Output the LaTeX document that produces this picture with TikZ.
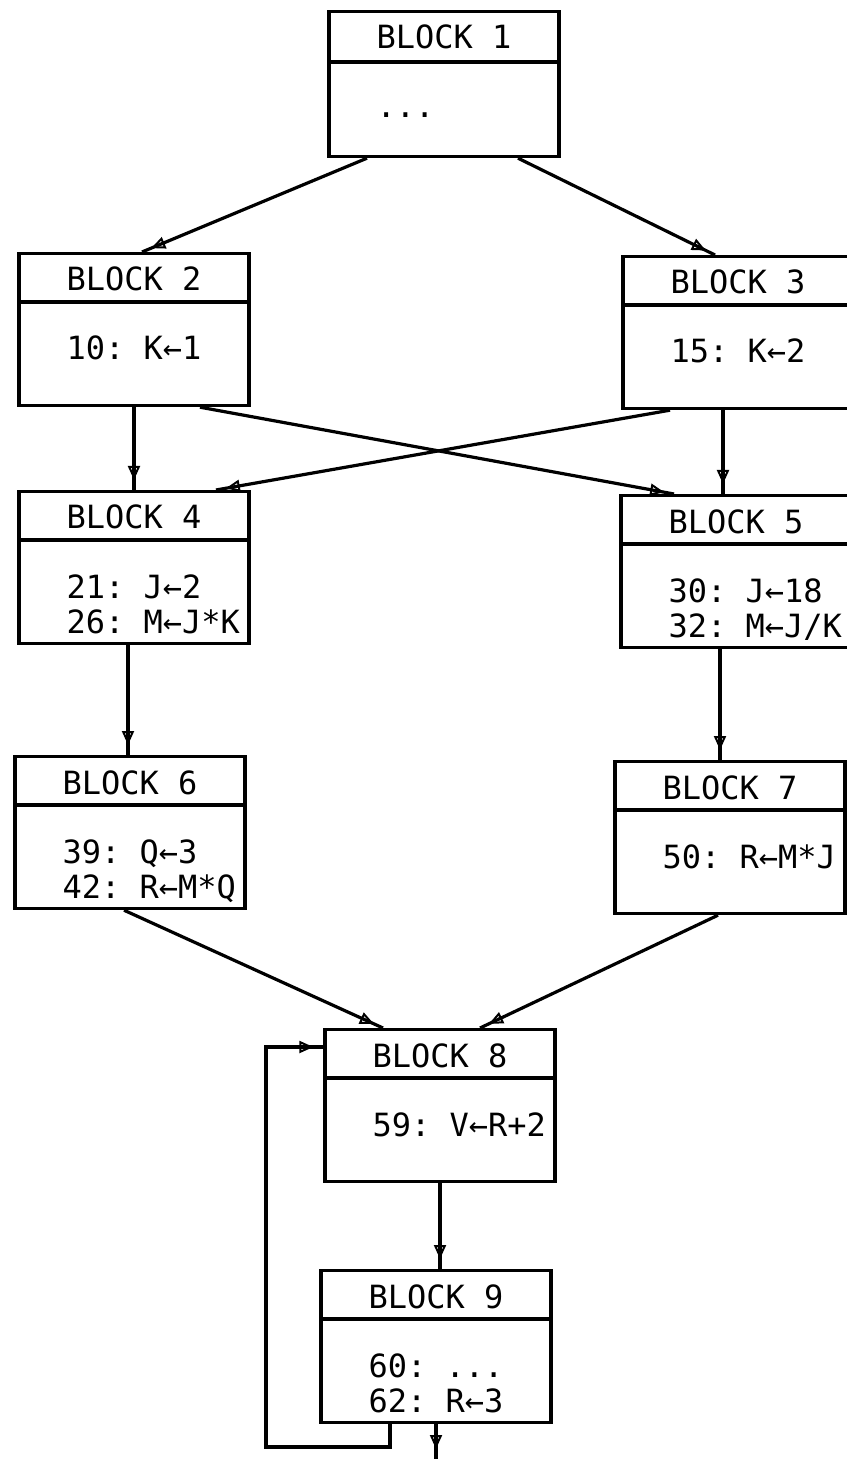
\documentclass[tikz,border=0pt]{standalone}
\usepackage{fontspec}
\setmonofont{DejaVu Sans Mono}
\usetikzlibrary{arrows.meta,calc,decorations.markings}

\begin{document}
\begin{tikzpicture}[x=0.5pt, y=-0.5pt,
    line width=1.6pt,
    font=\fontsize{16}{19}\selectfont\ttfamily,
    blockbox/.style={draw, rectangle, anchor=north, minimum width=115pt, minimum height=76pt, inner sep=0pt},
    blocktitle/.style={anchor=base, inner sep=0pt},
    blockcode/.style={anchor=base west, inner sep=0pt},
    cfgarrow/.style={line width=1.6pt, postaction={decorate},
      decoration={markings, mark=at position -5pt with {\arrow[line width=1pt]{Triangle[open,length=7pt,width=6pt]}}}}]
  \useasboundingbox (0,0) rectangle (846,1459);

  % blocks
  \node[blockbox, minimum height=72.5pt] (b1) at (444,10) {};
  \node[blockbox] (b2) at (134,252)  {};
  \node[blockbox] (b3) at (738,255)  {};
  \node[blockbox] (b4) at (134,490)  {};
  \node[blockbox] (b5) at (736,494)  {};
  \node[blockbox] (b6) at (130,755)  {};
  \node[blockbox] (b7) at (730,760)  {};
  \node[blockbox] (b8) at (440,1028) {};
  \node[blockbox] (b9) at (436,1269) {};

  \draw ($(b1.north west)+(0,52)$) -- ($(b1.north east)+(0,52)$);
  \foreach \b in {b2,b3,b4,b5,b6,b7,b8,b9}
    \draw ($(\b.north west)+(0,50)$) -- ($(\b.north east)+(0,50)$);
  \foreach \n in {1,...,9}
    \node[blocktitle] (t\n) at ($(b\n.north)+(0,39)$) {BLOCK \n};

  % statements
  \node[blockcode] (c1)  at ($(t1.base west)+(0,69)$) {...};
  \node[blockcode] (c2)  at ($(t2.base west)+(0,69)$) {10: K←1};
  \node[blockcode] (c3)  at ($(t3.base west)+(0,69)$) {15: K←2};
  \node[blockcode] (c4a) at ($(t4.base west)+(0,69)$) {21: J←2};
  \node[blockcode] (c4b) at ($(c4a.base west)+(0,35)$) {26: M←J*K};
  \node[blockcode] (c5a) at ($(t5.base west)+(0,69)$) {30: J←18};
  \node[blockcode] (c5b) at ($(c5a.base west)+(0,35)$) {32: M←J/K};
  \node[blockcode] (c6a) at ($(t6.base west)+(0,69)$) {39: Q←3};
  \node[blockcode] (c6b) at ($(c6a.base west)+(0,35)$) {42: R←M*Q};
  \node[blockcode] (c7)  at ($(t7.base west)+(0,69)$) {50: R←M*J};
  \node[blockcode] (c8)  at ($(t8.base west)+(0,69)$) {59: V←R+2};
  \node[blockcode] (c9a) at ($(t9.base west)+(0,69)$) {60: ...};
  \node[blockcode] (c9b) at ($(c9a.base west)+(0,35)$) {62: R←3};

  % edges
  \draw[cfgarrow] ($(b1.south)+(-77,0)$) -- ($(b2.north)+(8,0)$);
  \draw[cfgarrow] ($(b1.south)+(74,0)$) -- ($(b3.north)+(-23,0)$);
  \draw[cfgarrow] (b2.south) -- (b4.north);
  \draw[cfgarrow] ($(b3.south)+(-15,0)$) -- ($(b5.north)+(-13,0)$);
  \draw[cfgarrow] ($(b2.south)+(66,0)$) -- ($(b5.north)+(-62,0)$);
  \draw[cfgarrow] ($(b3.south)+(-68,0)$) -- ($(b4.north)+(82,0)$);
  \draw[cfgarrow] ($(b4.south)+(-6,0)$) -- ($(b6.north)+(-2,0)$);
  \draw[cfgarrow] ($(b5.south)+(-16,0)$) -- ($(b7.north)+(-10,0)$);
  \draw[cfgarrow] ($(b6.south)+(-6,0)$) -- ($(b8.north)+(-57,0)$);
  \draw[cfgarrow] ($(b7.south)+(-12,0)$) -- ($(b8.north)+(40,0)$);
  \draw[cfgarrow] (b8.south) -- ($(b9.north)+(4,0)$);

  % loop back and exit
  \coordinate (loopcorner) at (266,1447);
  \coordinate (exit) at (436,1459);
  \draw[cfgarrow] ($(b9.south)+(-46,0)$) |- (loopcorner) |- ($(b8.north west)+(0,19)$);
  \draw[cfgarrow] (b9.south) -- (exit);
\end{tikzpicture}
\end{document}
